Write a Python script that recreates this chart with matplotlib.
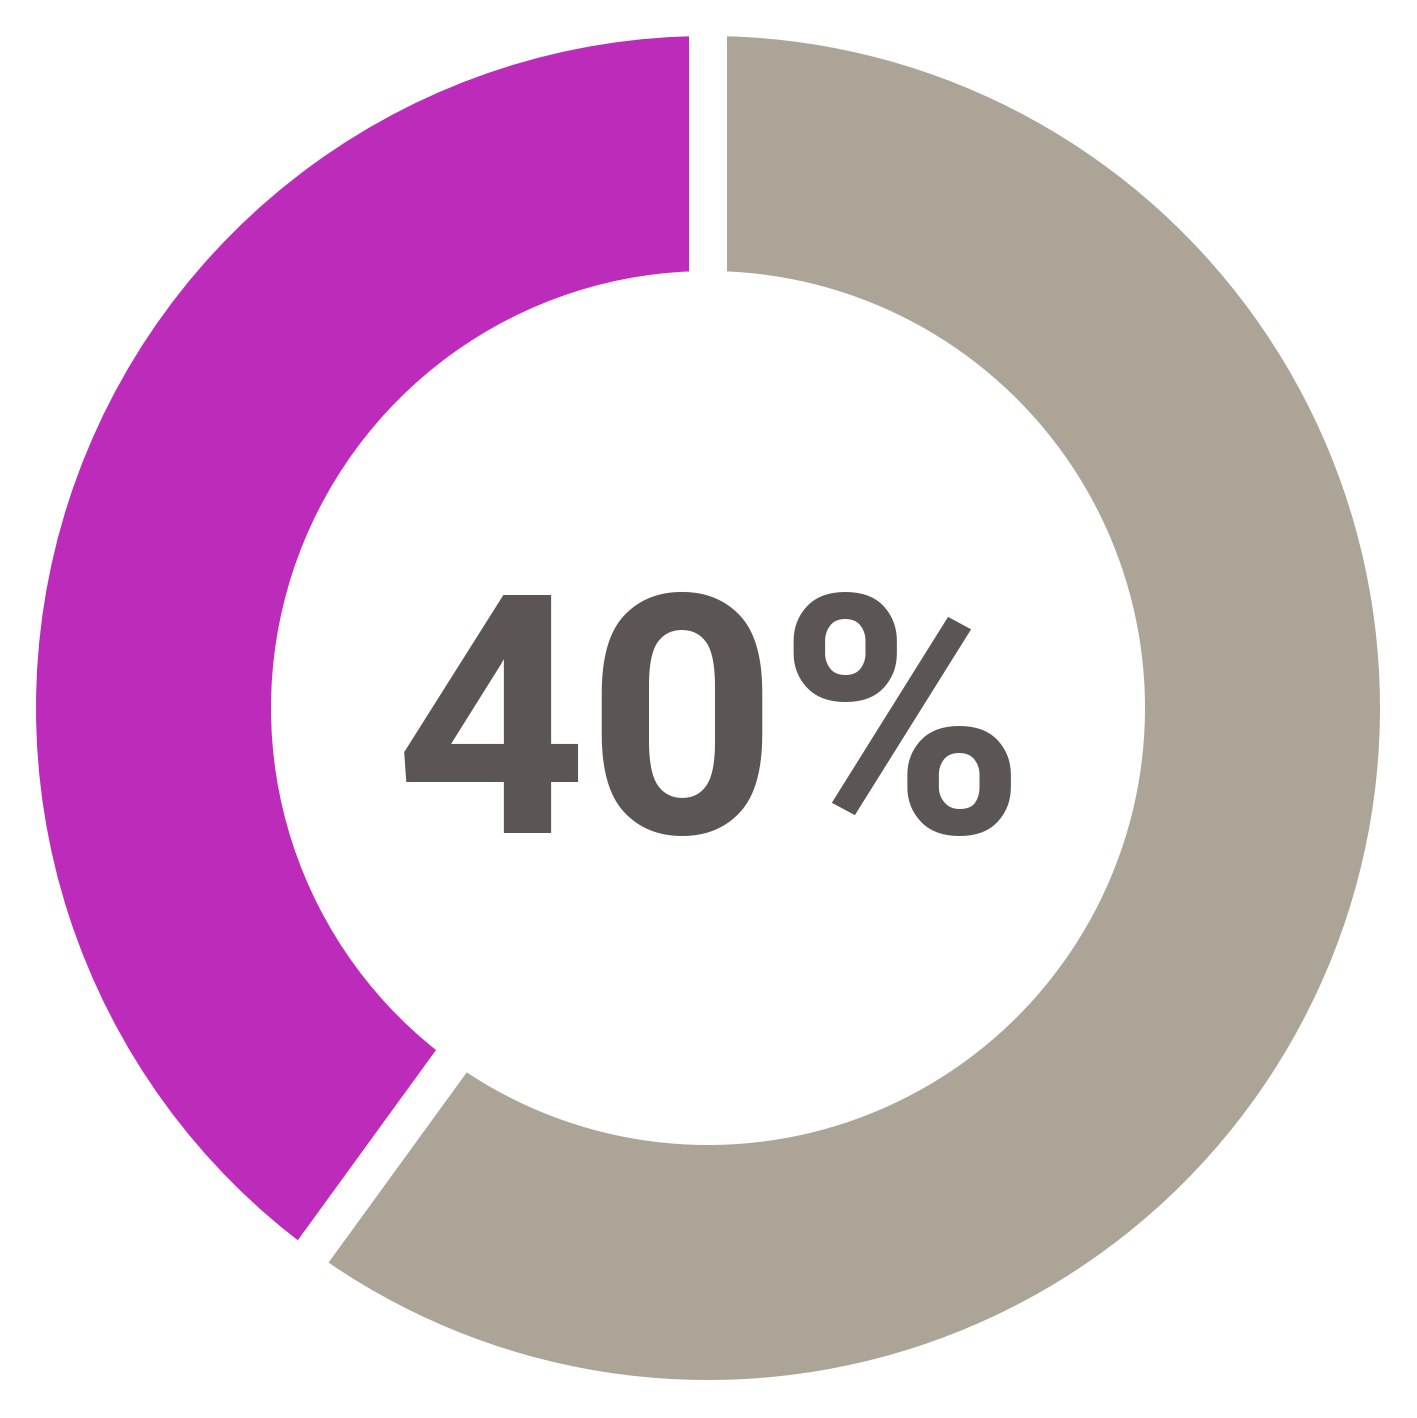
import numpy as np
import matplotlib
matplotlib.use("Agg")
import matplotlib.pyplot as plt
from matplotlib.patches import Wedge

# data
labels = ["Yes", "No"]
values = [40, 60]
colors = ["#BD2BBB", "#ADA498"]
center_label = "40%"

W, H = 1417, 1418
fig = plt.figure(figsize=(W / 100, H / 100), dpi=100)
ax = fig.add_axes([0, 0, 1, 1])
ax.set_xlim(0, W)
ax.set_ylim(0, H)
ax.set_aspect("equal")
ax.axis("off")

cx, cy = 708, H - 708
r_out, r_in = 672, 437

# slices go counterclockwise from 12 o'clock
start = 90.0
bounds = [start]
for v, c in zip(values, colors):
    span = 360.0 * v / sum(values)
    ax.add_patch(Wedge((cx, cy), r_out, start, start + span,
                       width=r_out - r_in, facecolor=c, edgecolor="none"))
    start += span
    bounds.append(start)

# white gaps between slices (38 px wide)
gap_pt = 38 * 72 / 100
for a in bounds[:-1]:
    t = np.deg2rad(a)
    ax.plot([cx + (r_in - 20) * np.cos(t), cx + (r_out + 20) * np.cos(t)],
            [cy + (r_in - 20) * np.sin(t), cy + (r_out + 20) * np.sin(t)],
            color="white", lw=gap_pt, solid_capstyle="butt")

ax.text(710, H - 833, center_label, ha="center", va="baseline",
        fontsize=241, fontweight="bold", family="Roboto",
        color="#5B5554")

fig.savefig("out.png", dpi=100, facecolor="white")
